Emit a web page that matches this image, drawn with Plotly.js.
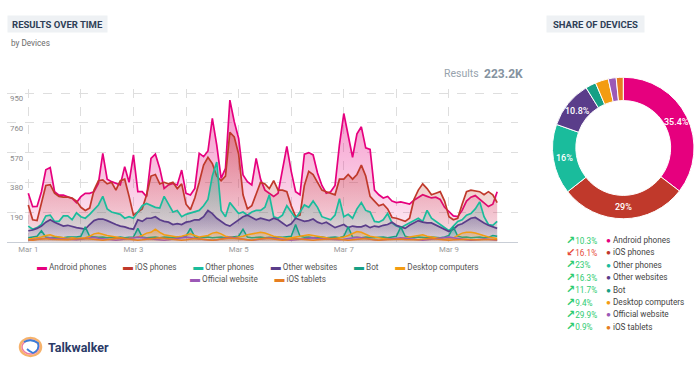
<!DOCTYPE html>
<html><head><meta charset="utf-8">
<script src="https://cdn.plot.ly/plotly-3.0.1.min.js"></script>
<style>html,body{margin:0;padding:0;background:#fff;}#chart{width:700px;height:379px;}</style>
</head><body><div id="chart"></div>
<script>
// ---------------- DATA ----------------
const seriesNames = ['Android phones','iOS phones','Other phones','Other websites','Bot','Desktop computers','Official website','iOS tablets'];
const seriesColors = ['#e6007e','#c0392b','#1abc9c','#5a3d8a','#16a085','#f39c12','#9b59b6','#e67e22'];

// results every 2 hours starting Mar 1, 00:00
const androidPhones = [310,224,225,320,460,474,320,298,298,288,
 277,250,288,309,309,320,373,565,400,384,
 373,363,480,380,555,320,320,288,533,560,
 469,341,363,373,363,458,309,299,341,565,
 544,580,789,620,405,469,906,768,661,427,
 384,363,533,400,330,310,290,310,450,610,
 450,320,300,560,570,555,440,360,310,320,
 360,620,820,680,540,690,735,600,590,330,
 300,280,290,260,250,255,245,240,265,280,
 300,290,280,285,270,220,190,165,160,200,
 260,285,295,270,250,225,240,320];
const iosPhones = [235,140,135,250,360,365,310,290,285,285,
 280,260,220,200,215,330,390,395,370,380,
 330,390,400,290,170,190,210,300,420,430,
 370,380,370,380,340,370,240,205,280,380,
 490,540,500,420,390,420,700,670,560,300,
 210,230,300,380,370,340,390,330,330,320,
 230,160,170,360,450,430,380,330,320,310,
 300,400,400,430,400,430,490,420,290,260,
 230,240,210,155,150,140,130,150,270,330,
 370,340,300,310,320,260,160,140,150,240,
 320,330,325,320,300,320,300,250];
const otherPhones = [100,80,90,110,165,170,130,130,165,165,
 140,185,160,150,175,205,235,290,210,190,
 180,175,150,160,150,190,230,245,230,220,
 215,290,240,190,200,160,175,185,190,200,
 230,270,420,510,200,160,250,215,180,190,
 170,190,200,200,220,300,160,150,170,230,
 190,150,190,235,220,260,220,160,150,140,
 170,275,160,175,150,210,250,200,190,130,
 125,140,180,120,100,90,105,120,140,150,
 130,200,150,130,110,90,70,100,130,140,
 170,180,210,255,160,110,105,130];
const otherWebsites = [70,75,85,100,125,140,125,110,100,105,
 95,90,85,80,110,135,145,145,135,120,
 110,100,95,85,80,140,130,150,150,160,
 140,130,125,110,115,110,125,130,140,140,
 160,200,180,150,130,110,100,120,140,160,
 170,155,140,150,140,135,150,140,120,100,
 115,150,140,130,135,145,125,115,125,110,
 90,100,110,90,100,95,95,105,90,100,
 95,105,110,125,105,95,85,105,120,135,
 125,120,120,105,95,80,65,80,105,115,
 130,150,155,135,120,105,95,85];
const bot = [25,30,35,70,30,25,30,28,25,30,
 28,30,35,95,35,30,28,30,25,28,
 25,30,25,28,30,85,30,25,28,30,
 25,30,28,25,30,28,35,85,30,25,
 28,30,25,28,30,25,28,30,35,80,
 30,25,28,30,25,28,25,30,28,30,
 35,110,35,28,30,25,28,30,25,28,
 30,25,35,95,30,28,25,30,28,25,
 28,30,25,28,35,95,35,28,25,30,
 28,25,30,28,25,30,40,95,35,28,
 30,25,28,30,25,28,40,35];
const desktopComputers = [15,20,25,30,40,45,35,30,25,20,
 25,20,20,25,35,50,55,45,40,35,
 30,25,20,22,25,30,40,55,60,80,
 60,45,40,35,30,35,45,50,40,30,
 35,40,55,60,50,35,30,25,30,35,
 45,50,55,60,55,45,35,30,25,20,
 25,30,35,40,45,40,35,30,25,20,
 20,25,30,40,55,65,60,45,35,30,
 25,20,20,15,18,20,25,30,35,40,
 45,35,30,25,20,15,20,25,40,55,
 60,60,55,45,35,30,25,20];
const officialWebsite = [10,12,15,18,22,25,20,18,15,12,
 10,12,15,20,25,28,22,18,15,12,
 10,12,15,20,25,30,28,22,18,15,
 12,10,12,15,20,25,30,28,22,18,
 15,12,10,12,18,22,28,25,20,15,
 12,10,12,15,20,25,22,18,15,12,
 10,12,15,20,22,25,20,18,15,12,
 10,12,15,20,25,28,25,20,15,12,
 10,12,15,18,22,25,22,18,15,12,
 10,12,15,20,25,28,30,25,20,15,
 12,10,12,15,18,15,12,10];
const iosTablets = [12,10,14,18,20,16,14,12,10,12,
 15,18,22,20,16,14,12,10,12,16,
 20,24,20,16,12,10,12,14,18,22,
 26,22,18,14,12,10,12,16,20,18,
 14,12,10,12,15,20,24,22,18,14,
 12,10,14,18,22,20,16,12,10,12,
 16,20,18,14,12,10,12,14,18,22,
 20,16,12,10,12,15,18,20,16,12,
 10,12,14,18,20,18,14,12,10,12,
 16,20,22,18,14,12,10,12,14,18,
 16,12,10,12,14,16,14,12];
const seriesData = [androidPhones, iosPhones, otherPhones, otherWebsites, bot, desktopComputers, officialWebsite, iosTablets];

const startDate = Date.UTC(2021, 2, 1);
const stepHours = 2;
const xTickVals = ['2021-03-01','2021-03-03','2021-03-05','2021-03-07','2021-03-09'];
const xTickText = ['Mar 1','Mar 3','Mar 5','Mar 7','Mar 9'];
const xMinorVals = ['2021-03-02','2021-03-04','2021-03-06','2021-03-08'];
const yTickVals = [190, 380, 570, 760, 950];

const shareValues = [35.4, 29, 16, 10.8, 2.4, 3.0, 1.8, 1.6];
const changeText = ['10.3%','16.1%','23%','16.3%','11.7%','9.4%','29.9%','0.9%'];
const changeUp = [true, false, true, true, true, true, true, true];
const totalResults = '223.2K';

// ---------------- BUILD ----------------
const W = 700, H = 379;
const px = x => x / W;
const py = y => 1 - y / H;
function rgba(hex, a) {
  const n = parseInt(hex.slice(1), 16);
  return `rgba(${(n>>16)&255},${(n>>8)&255},${n&255},${a})`;
}
const times = androidPhones.map((_, i) => new Date(startDate + i * stepHours * 3600e3).toISOString().slice(0, 16).replace('T', ' '));

const FONT = 'Roboto, "Open Sans", sans-serif';
const traces = seriesData.map((ys, i) => ({
  type: 'scatter', mode: 'lines', x: times, y: ys,
  name: seriesNames[i],
  line: {color: seriesColors[i], width: i < 4 ? 1.7 : 1.5},
  fill: 'tozeroy',
  fillgradient: {type: 'vertical', start: 0, stop: Math.max(...ys),
    colorscale: [[0, rgba(seriesColors[i], 0.06)], [1, rgba(seriesColors[i], 0.42)]]},
  showlegend: false, hoverinfo: 'skip'
}));

// donut geometry (pixels)
const pieCx = 623.25, pieCy = 148, pieR = 70.75, pieHole = 0.67;
traces.push({
  type: 'pie', values: shareValues, labels: seriesNames,
  marker: {colors: seriesColors, line: {color: '#ffffff', width: 1}},
  hole: pieHole, sort: false, direction: 'clockwise', rotation: 0,
  textinfo: 'none',
  domain: {x: [px(pieCx - pieR), px(pieCx + pieR)], y: [py(pieCy + pieR), py(pieCy - pieR)]},
  showlegend: false, hoverinfo: 'skip'
});

const ann = [];
function note(x, y, text, opts) {
  ann.push(Object.assign({xref: 'paper', yref: 'paper', x: px(x), y: py(y), text: text,
    showarrow: false, xanchor: 'left', yanchor: 'middle',
    font: {family: FONT, size: 8.2, color: '#555'}}, opts || {}));
}

// donut percentage labels placed at the middle of each big slice
const shareTotal = shareValues.reduce((a, b) => a + b, 0);
let cum = 0;
shareValues.forEach(v => {
  const mid = (cum + v / 2) / shareTotal * 2 * Math.PI;
  cum += v;
  if (v < 10) return;
  const r = pieR * (1 + pieHole) / 2;
  note(pieCx + r * Math.sin(mid), pieCy - r * Math.cos(mid), v + '%',
    {xanchor: 'center', font: {family: FONT, size: 9, color: '#ffffff', weight: 500}});
});

// titles
note(6.7, 15, '<b>RESULTS OVER TIME</b>', {yanchor: 'top', width: 99, height: 16, align: 'center', bgcolor: '#eef1f4', borderpad: 0,
  font: {family: FONT, size: 9.5, color: '#2f3f57'}});
note(546, 15, '<b>SHARE OF DEVICES</b>', {yanchor: 'top', width: 97, height: 16, align: 'center', bgcolor: '#eef1f4', borderpad: 0,
  font: {family: FONT, size: 9.5, color: '#2f3f57'}});
note(9, 43, 'by Devices', {font: {family: FONT, size: 8.2, color: '#6b6b6b'}});
note(480.5, 74, 'Results', {xanchor: 'right', font: {family: FONT, size: 10.5, color: '#97a3ad'}});
note(482, 73.5, '<b>' + totalResults + '</b>', {font: {family: FONT, size: 12, color: '#8593a0'}});

// line chart legend (two centred rows)
const legendRows = [[0,1,2,3,4,5],[6,7]];
const legendY = [266, 278.5];
legendRows.forEach((row, r) => {
  const txt = row.map(i => `<span style="color:${seriesColors[i]};font-size:10px">▬</span> ${seriesNames[i]}`).join('\u2003\u2003');
  note(258, legendY[r], txt, {xanchor: 'center', font: {family: FONT, size: 8.2, color: '#555'}});
});

// pie legend
seriesNames.forEach((name, i) => {
  const y = 240 + i * 12.4;
  const col = changeUp[i] ? '#2ecc71' : '#e74c3c';
  note(564, y, `<b style="font-size:11px;font-family:'DejaVu Sans'">${changeUp[i] ? '↗' : '↙'}</b>${changeText[i]}`, {font: {family: FONT, size: 8.2, color: col}});
  note(603.5, y, `<span style="color:${seriesColors[i]}">●</span> ${name}`, {font: {family: FONT, size: 8.2, color: '#444'}});
});

// brand
note(45.5, 347, '<b>Talkwalker</b>', {font: {family: FONT, size: 12.5, color: '#2b3a67'}});

const shapes = [
  {type: 'circle', xref: 'paper', yref: 'paper', x0: px(20), x1: px(41), y0: py(356), y1: py(338), line: {color: '#f6b26b', width: 2.5}},
  {type: 'circle', xref: 'paper', yref: 'paper', x0: px(22), x1: px(39), y0: py(354), y1: py(340), line: {color: '#ef7fa0', width: 1.5}},
  {type: 'path', xref: 'paper', yref: 'paper',
   path: `M ${px(24)} ${py(342)} Q ${px(31)} ${py(338)} ${px(38)} ${py(343)} Q ${px(40)} ${py(350)} ${px(33)} ${py(353)} Q ${px(29)} ${py(351)} ${px(27)} ${py(349)}`,
   line: {color: '#3b7dd8', width: 1.8}}
];

const gridCol = '#dedede';
const layout = {
  width: W, height: H, margin: {l: 0, r: 0, t: 0, b: 0},
  paper_bgcolor: '#ffffff', plot_bgcolor: 'rgba(0,0,0,0)',
  font: {family: FONT},
  xaxis: {type: 'date', domain: [px(7), px(518)], range: ['2021-02-28 14:17', '2021-03-10 07:30'],
    tickmode: 'array', tickvals: xTickVals, ticktext: xTickText,
    showgrid: true, griddash: 'dash', gridcolor: gridCol, gridwidth: 1,
    minor: {tickmode: 'array', tickvals: xMinorVals, showgrid: true, griddash: 'dash', gridcolor: gridCol, gridwidth: 1},
    showline: true, linecolor: '#c9ced6', linewidth: 1, ticks: '', zeroline: false,
    tickfont: {family: FONT, size: 7.8, color: '#9a9a9a'}, fixedrange: true},
  yaxis: {domain: [py(241.7), py(88.5)], range: [0, 980],
    tickmode: 'array', tickvals: yTickVals,
    showgrid: true, griddash: 'dash', gridcolor: gridCol, gridwidth: 1,
    zeroline: false, showline: false, ticks: '', ticklabelposition: 'inside bottom',
    tickfont: {family: FONT, size: 7.8, color: '#8a8a8a'}, fixedrange: true},
  annotations: ann, shapes: shapes, showlegend: false
};
Plotly.newPlot('chart', traces, layout, {displayModeBar: false, staticPlot: true});
</script></body></html>
